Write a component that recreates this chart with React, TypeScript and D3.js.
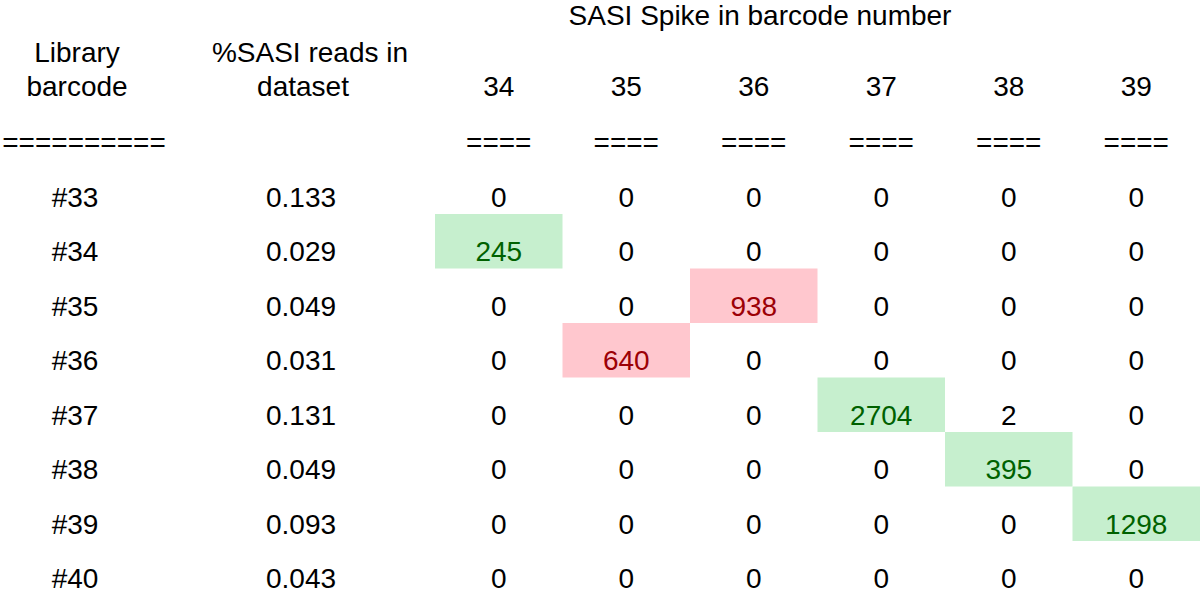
import React from 'react';
import * as d3 from 'd3';

// table contents
const libraryBarcodes = ['#33', '#34', '#35', '#36', '#37', '#38', '#39', '#40'];
const sasiPercent = ['0.133', '0.029', '0.049', '0.031', '0.131', '0.049', '0.093', '0.043'];
const spikeBarcodes = ['34', '35', '36', '37', '38', '39'];
const spikeCounts = [
  [0, 0, 0, 0, 0, 0],
  [245, 0, 0, 0, 0, 0],
  [0, 0, 938, 0, 0, 0],
  [0, 640, 0, 0, 0, 0],
  [0, 0, 0, 2704, 2, 0],
  [0, 0, 0, 0, 395, 0],
  [0, 0, 0, 0, 0, 1298],
  [0, 0, 0, 0, 0, 0],
];

const width = 1200;
const height = 595;
const font = '"Liberation Sans", Arial, Helvetica, sans-serif';
const fontSize = 28;

const GREEN_BG = '#c6efce';
const GREEN_TX = '#006100';
const RED_BG = '#ffc7ce';
const RED_TX = '#9c0006';

const App: React.FC = () => {
  const x = d3.scaleBand<string>().domain(spikeBarcodes).range([435, 1200]);
  const y = d3.scaleBand<string>().domain(libraryBarcodes).range([159.5, 595.5]);
  const libX = 75;
  const pctX = 301;
  const baseOff = 47; // text baseline below row top

  // highlighted cells: counts above noise, green when spike matches library
  const cells = libraryBarcodes.flatMap((lib, r) =>
    spikeBarcodes.map((sp, c) => {
      const v = spikeCounts[r][c];
      const hit = v > 10;
      const match = lib.slice(1) === sp;
      return { lib, sp, v, hit, match };
    })
  );

  return (
    <div style={{ position: 'absolute', left: 0, top: 0 }}>
      <svg width={width} height={height} style={{ display: 'block', background: '#fff' }}
        fontFamily={font} fontSize={fontSize}>
        {/* headers */}
        <text x={760} y={25} textAnchor="middle">SASI Spike in barcode number</text>
        <text x={77} y={62} textAnchor="middle">Library</text>
        <text x={77} y={96} textAnchor="middle">barcode</text>
        <text x={310} y={62} textAnchor="middle">%SASI reads in</text>
        <text x={303} y={96} textAnchor="middle">dataset</text>
        <text x={84} y={152} textAnchor="middle">==========</text>
        {spikeBarcodes.map(sp => (
          <g key={sp}>
            <text x={x(sp)! + x.bandwidth() / 2} y={96} textAnchor="middle">{sp}</text>
            <text x={x(sp)! + x.bandwidth() / 2} y={152} textAnchor="middle">====</text>
          </g>
        ))}

        {/* highlight boxes */}
        {cells.filter(d => d.hit).map(d => (
          <rect key={`bg-${d.lib}-${d.sp}`} x={x(d.sp)} y={y(d.lib)}
            width={x.bandwidth()} height={y.bandwidth()}
            fill={d.match ? GREEN_BG : RED_BG} />
        ))}

        {/* rows */}
        {libraryBarcodes.map((lib, r) => (
          <g key={lib}>
            <text x={libX} y={y(lib)! + baseOff} textAnchor="middle">{lib}</text>
            <text x={pctX} y={y(lib)! + baseOff} textAnchor="middle">{sasiPercent[r]}</text>
          </g>
        ))}
        {cells.map(d => (
          <text key={`t-${d.lib}-${d.sp}`} x={x(d.sp)! + x.bandwidth() / 2} y={y(d.lib)! + baseOff}
            textAnchor="middle" fill={d.hit ? (d.match ? GREEN_TX : RED_TX) : '#000'}>
            {d.v}
          </text>
        ))}
      </svg>
    </div>
  );
};

export default App;
